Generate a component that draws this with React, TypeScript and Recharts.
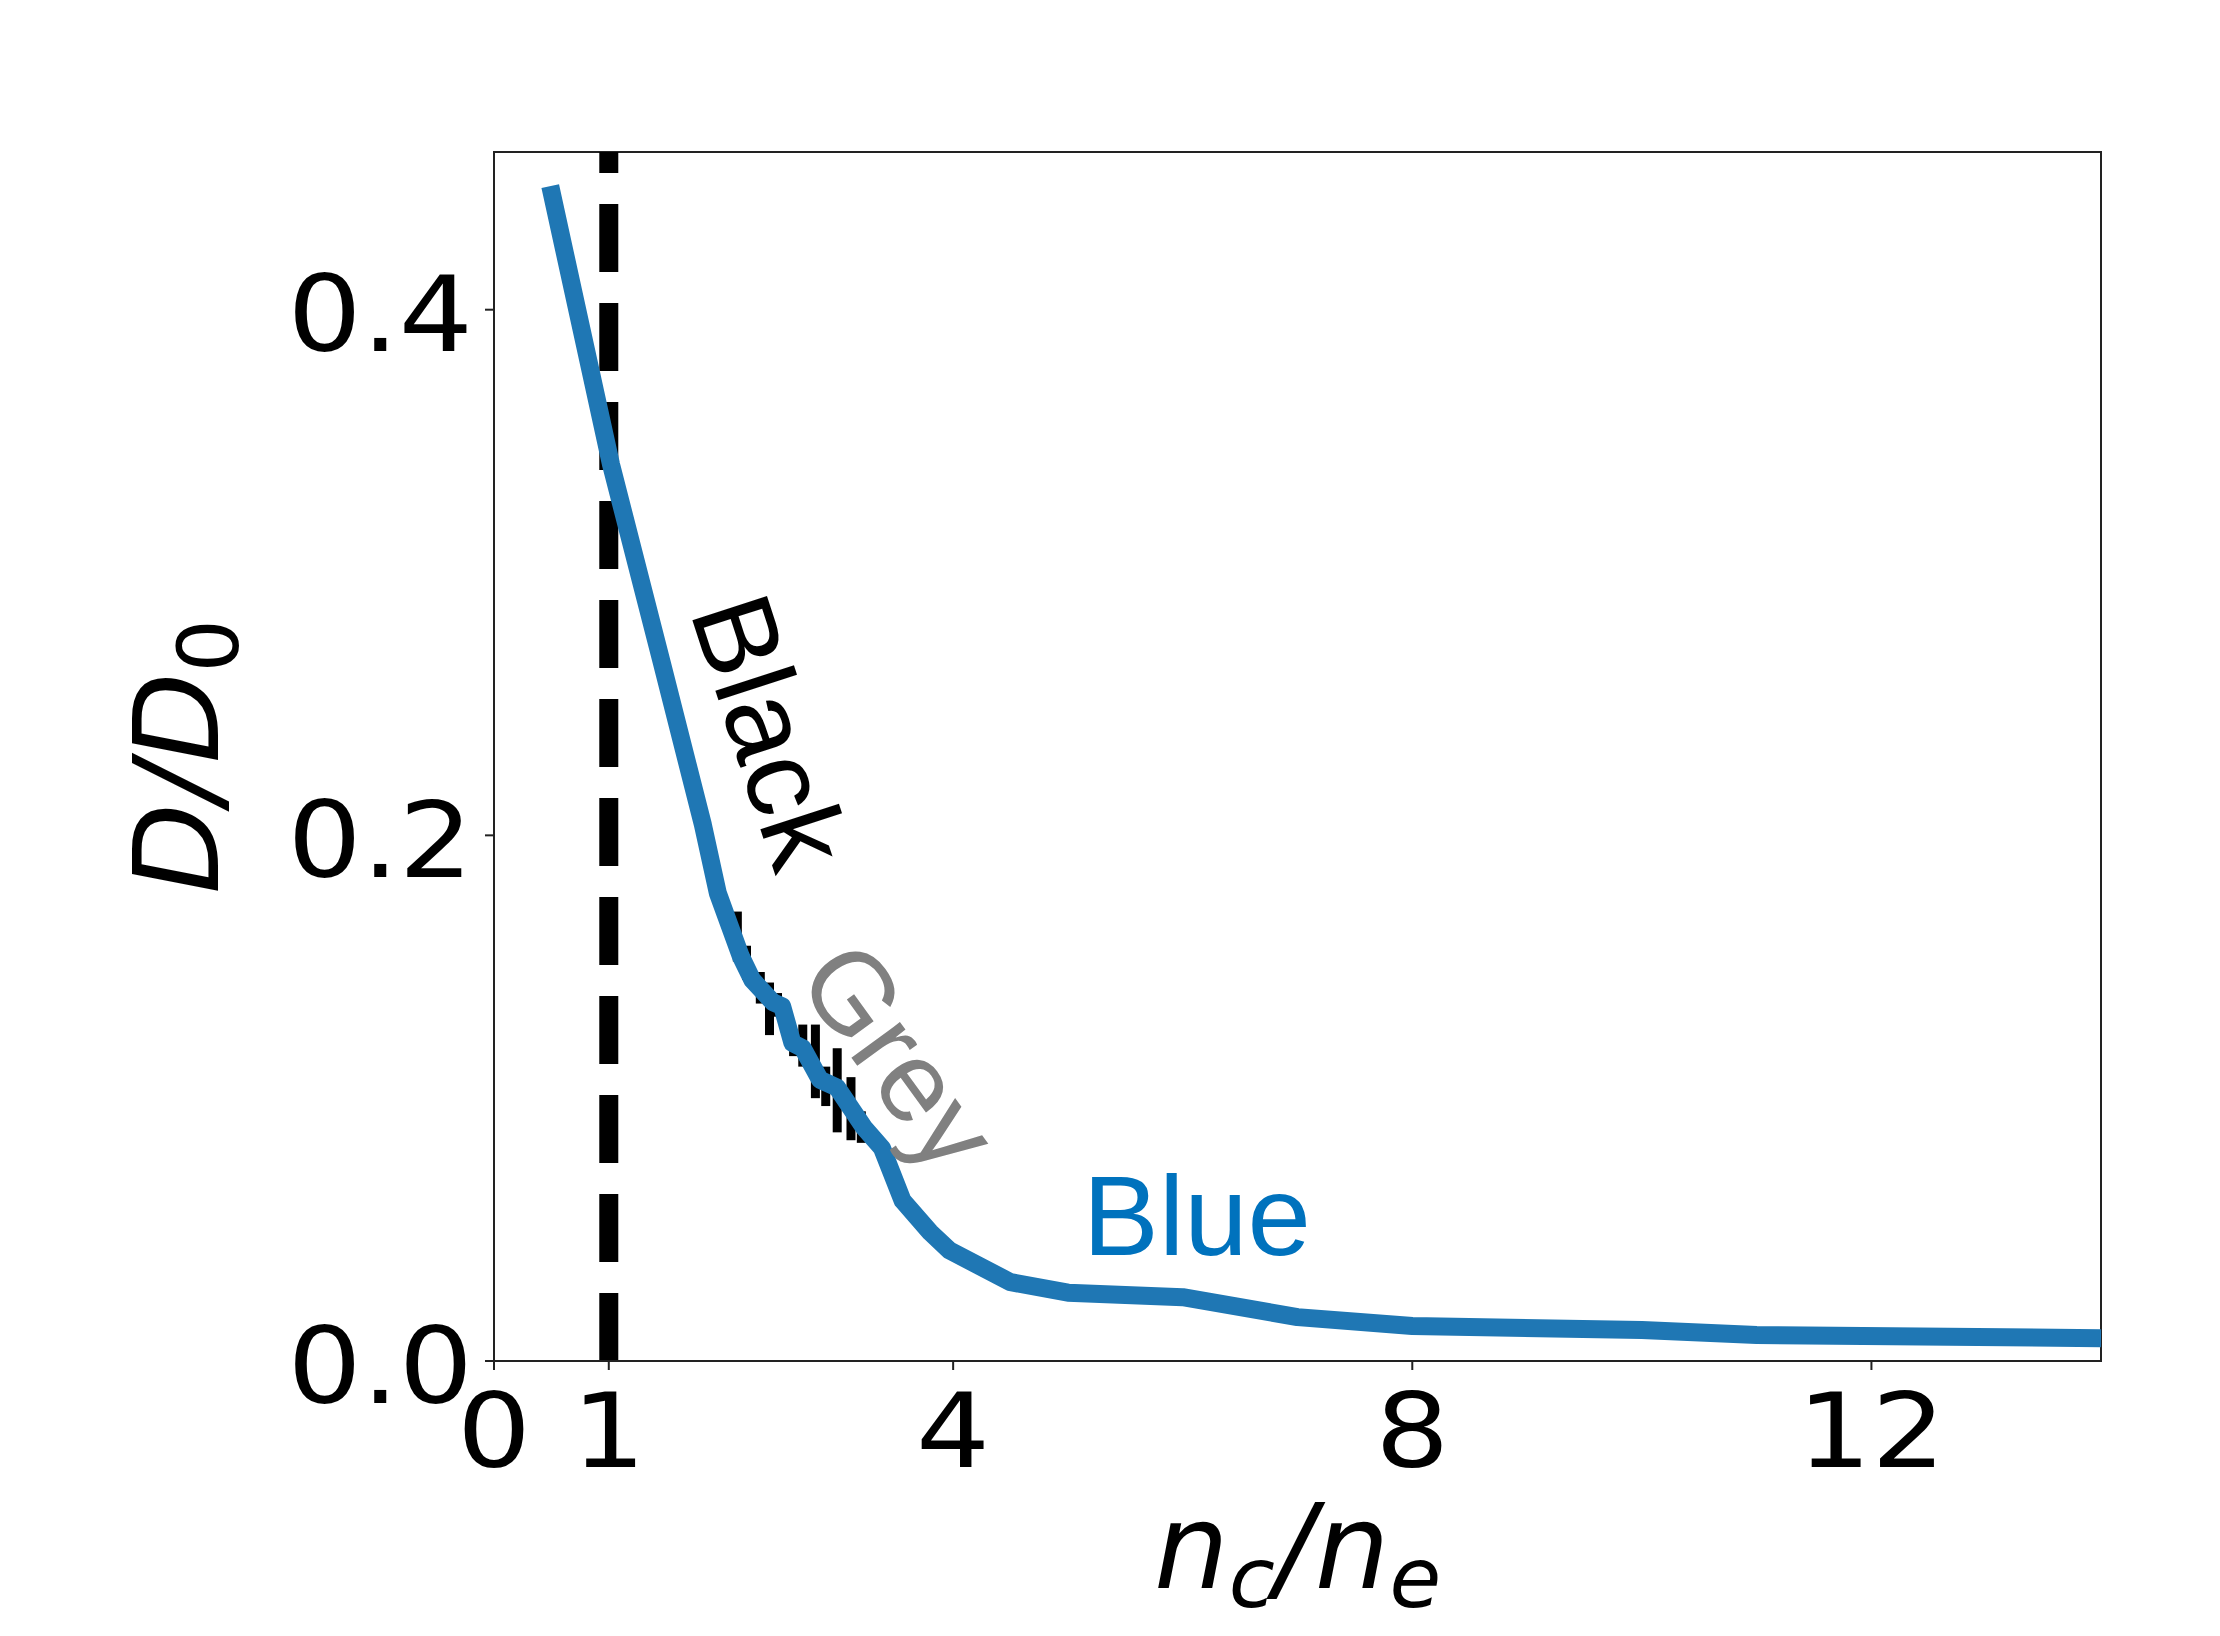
import React from 'react';
import {
  ComposedChart,
  Line,
  Scatter,
  ErrorBar,
  XAxis,
  YAxis,
  ReferenceLine,
  ReferenceArea,
  ReferenceDot,
} from 'recharts';

// blue curve, D/D0 against nc/ne
const curveX = [
  0.49, 1.02, 1.46, 1.82, 1.95, 2.05, 2.15, 2.25, 2.43, 2.51, 2.6, 2.69, 2.84,
  2.99, 3.22, 3.38, 3.56, 3.8, 3.97, 4.5, 5.0, 6.0, 7.0, 8.0, 10.0, 11.0, 14.0,
];
const curveY = [
  0.447, 0.341, 0.266, 0.204, 0.178, 0.166, 0.154, 0.145, 0.1365, 0.135, 0.121,
  0.119, 0.107, 0.104, 0.089, 0.081, 0.061, 0.049, 0.042, 0.03, 0.026, 0.0243,
  0.0167, 0.0133, 0.0118, 0.0099, 0.0087,
];

// black error bars peeking out under the curve
const barX = [2.12, 2.2, 2.32, 2.4, 2.47, 2.61, 2.69, 2.8, 2.89, 2.99, 3.11, 3.2];
const barY = [0.1615, 0.1515, 0.142, 0.134, 0.1355, 0.121, 0.12, 0.114, 0.1045, 0.103, 0.096, 0.089];
const barErr = [0.0095, 0.0065, 0.006, 0.01, 0.0045, 0.005, 0.008, 0.014, 0.0075, 0.016, 0.012, 0.006];

const xTicks = [0, 1, 4, 8, 12];
const yTicks = [0, 0.2, 0.4];

const curve = curveX.map((x, i) => ({ x, y: curveY[i] }));
const bars = barX.map((x, i) => ({ x, y: barY[i], err: barErr[i] }));

// tick labels are a bit wider than DejaVu Sans in the original
const XTick = (props: any) => {
  const { x, y, payload } = props;
  return (
    <text
      transform={`translate(${x} ${y}) scale(1.12 1)`}
      textAnchor="middle"
      dy="0.71em"
      fontFamily="DejaVu Sans"
      fontSize={104}
      fill="#000"
    >
      {payload.value}
    </text>
  );
};

const YTick = (props: any) => {
  const { x, y, payload } = props;
  return (
    <text
      transform={`translate(${x} ${y + 4}) scale(1.1 1)`}
      textAnchor="end"
      dy="0.355em"
      fontFamily="DejaVu Sans"
      fontSize={106}
      fill="#000"
    >
      {Number(payload.value).toFixed(1)}
    </text>
  );
};

const NoteText = (props: any) => {
  const { viewBox, text, color, angle, anchor, baseline } = props;
  const x = viewBox.x;
  const y = viewBox.y;
  return (
    <text
      x={x}
      y={y}
      transform={angle ? `rotate(${angle} ${x} ${y})` : undefined}
      textAnchor={anchor}
      dominantBaseline={baseline}
      fontFamily="Liberation Sans"
      fontSize={114}
      fill={color}
    >
      {text}
    </text>
  );
};

const XTitle = (props: any) => {
  const { viewBox } = props;
  const cx = viewBox.x + viewBox.width / 2;
  const y = viewBox.y + 227;
  return (
    <text x={cx} y={y} textAnchor="middle" fontFamily="DejaVu Sans" fontStyle="italic" fontSize={118} fill="#000">
      <tspan>n</tspan>
      <tspan fontSize={84} dy={19}>c</tspan>
      <tspan dy={-19}>/n</tspan>
      <tspan fontSize={84} dy={19}>e</tspan>
    </text>
  );
};

const YTitle = (props: any) => {
  const { viewBox } = props;
  const x = viewBox.x + viewBox.width - 276;
  const cy = viewBox.y + viewBox.height / 2;
  return (
    <text
      x={0}
      y={0}
      transform={`translate(${x} ${cy}) rotate(-90)`}
      textAnchor="middle"
      fontFamily="DejaVu Sans"
      fontStyle="italic"
      fontSize={118}
      fill="#000"
    >
      <tspan>D/D</tspan>
      <tspan fontSize={84} fontStyle="normal" dy={20}>0</tspan>
    </text>
  );
};

const App = () => {
  return (
    <div style={{ position: 'absolute', left: 0, top: 0, background: '#fff' }}>
      <ComposedChart
        width={2220}
        height={1636}
        margin={{ top: 152, right: 119, left: 294, bottom: 175 }}
      >
        <XAxis
          dataKey="x"
          type="number"
          domain={[0, 14]}
          ticks={xTicks}
          interval={0}
          height={100}
          tick={<XTick />}
          tickSize={9}
          tickMargin={23}
          axisLine={{ stroke: '#222', strokeWidth: 2 }}
          tickLine={{ stroke: '#222', strokeWidth: 2 }}
          label={<XTitle />}
        />
        <YAxis
          type="number"
          domain={[0, 0.46]}
          ticks={yTicks}
          interval={0}
          width={200}
          tick={<YTick />}
          tickSize={9}
          tickMargin={12}
          axisLine={{ stroke: '#222', strokeWidth: 2 }}
          tickLine={{ stroke: '#222', strokeWidth: 2 }}
          label={<YTitle />}
        />
        <ReferenceArea
          x1={0}
          x2={14}
          y1={0}
          y2={0.46}
          fill="none"
          stroke="#222"
          strokeWidth={2}
        />
        <ReferenceLine
          segment={[{ x: 1, y: 0 }, { x: 1, y: 0.46 }]}
          stroke="#000"
          strokeWidth={19}
          strokeDasharray="68 31"
        />
        <Scatter
          data={bars}
          dataKey="y"
          shape={() => <g />}
          isAnimationActive={false}
        >
          <ErrorBar
            dataKey="err"
            direction="y"
            width={0}
            stroke="#000"
            strokeWidth={9}
            isAnimationActive={false}
          />
        </Scatter>
        <Line
          data={curve}
          dataKey="y"
          type="linear"
          stroke="#1f77b4"
          strokeWidth={18}
          strokeLinejoin="round"
          dot={false}
          activeDot={false}
          isAnimationActive={false}
        />
        <ReferenceDot
          x={2.405}
          y={0.2395}
          r={0}
          label={(p: any) => (
            <NoteText {...p} text="Black" color="#000" angle={72} anchor="middle" baseline="central" />
          )}
        />
        <ReferenceDot
          x={3.53}
          y={0.116}
          r={0}
          label={(p: any) => (
            <NoteText {...p} text="Grey" color="#808080" angle={54} anchor="middle" baseline="central" />
          )}
        />
        <ReferenceDot
          x={5.13}
          y={0.0403}
          r={0}
          label={(p: any) => (
            <NoteText {...p} text="Blue" color="#0072BD" angle={0} anchor="start" baseline="alphabetic" />
          )}
        />
      </ComposedChart>
    </div>
  );
};

export default App;
